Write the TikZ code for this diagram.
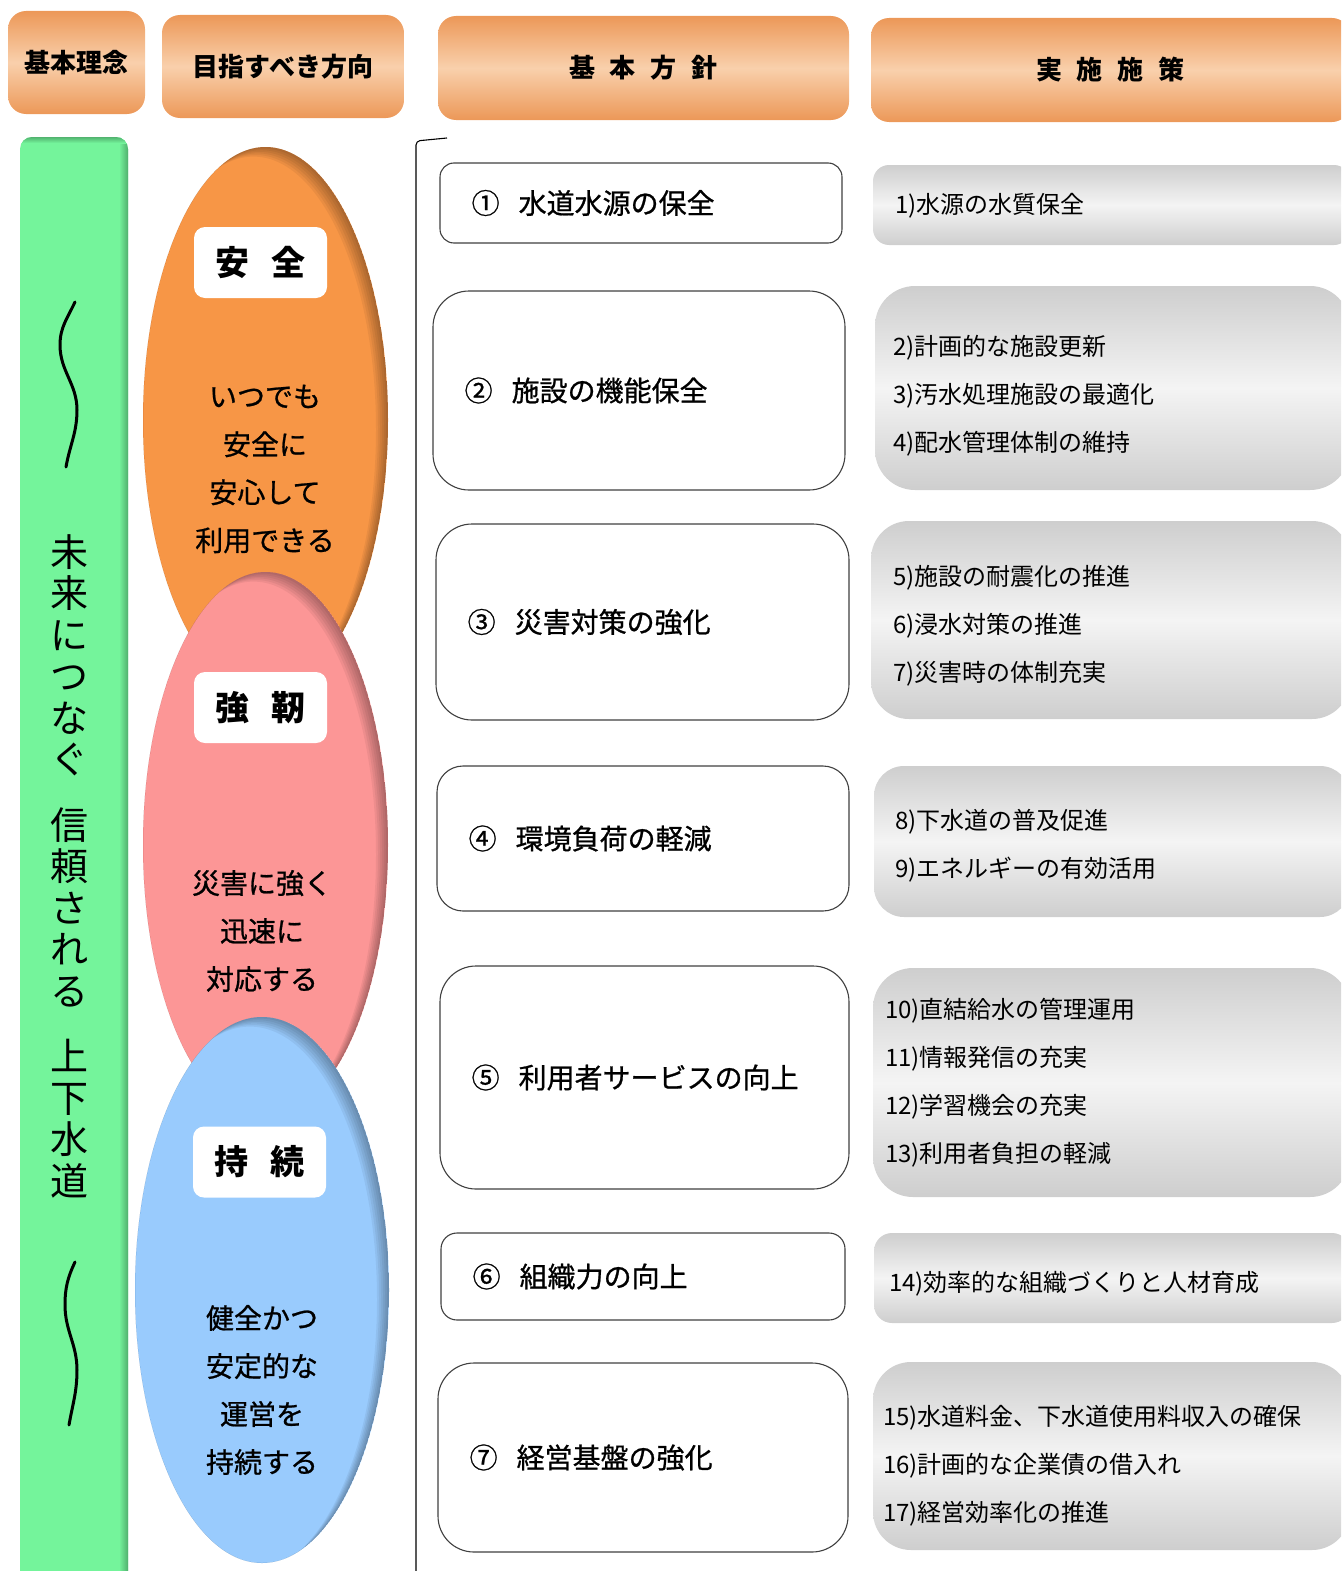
\documentclass[tikz,border=0pt]{standalone}
\usepackage{fontspec}
\setmainfont{Noto Sans CJK JP}
\newfontfamily\jpmid[FakeBold=0.8]{Noto Sans CJK JP}
\usetikzlibrary{positioning}

\definecolor{headDeep}{RGB}{236,152,88}
\definecolor{headPale}{RGB}{249,208,172}
\definecolor{barGreen}{RGB}{116,244,155}
\definecolor{barShade}{RGB}{76,168,104}
\definecolor{safeOrange}{RGB}{247,150,70}
\definecolor{toughPink}{RGB}{252,150,150}
\definecolor{keepBlue}{RGB}{153,203,253}
\definecolor{actGray}{RGB}{206,206,206}
\definecolor{actPale}{RGB}{244,244,244}

\pgfkeys{/tikz/.cd,
    chart style/.style={
        x=1pt, y=-1pt,      % 画像のピクセル座標そのまま
        line join=round
    },
    head box/.style={rounded corners=18pt, top color=headDeep, bottom color=headDeep,
        middle color=headPale, inner sep=0pt, font=\fontsize{26}{30}\selectfont\bfseries},
    title box/.style={fill=white, rounded corners=11pt, minimum width=133pt,
        minimum height=71pt, font=\fontsize{34}{40}\selectfont\bfseries},
    aim text/.style={align=center, inner sep=0pt, font=\jpmid\fontsize{28}{48}\selectfont},
    motto text/.style={align=center, inner sep=0pt, font=\fontsize{38}{41.5}\selectfont},
    policy box/.style={draw=black!75, line width=1.1pt, fill=white},
    policy text/.style={anchor=west, inner sep=0pt, font=\jpmid\fontsize{28}{34}\selectfont},
    action box/.style={top color=actGray, bottom color=actGray, middle color=actPale},
    action text/.style={anchor=west, align=left, inner sep=0pt, font=\fontsize{24}{48}\selectfont},
    wave/.style={line width=3pt, line cap=round}
}

\begin{document}
\begin{tikzpicture}[chart style]

    \useasboundingbox (0,0) rectangle (1341,1571);
    \clip (0,0) rectangle (1341,1571);

    % --- 1. 見出し ---
    \node[head box, minimum width=137pt, minimum height=103pt] (headIdea) at (76.5,62.5) {基本理念};
    \node[head box, minimum width=242pt, minimum height=103pt] (headAim) at (283,66.5) {目指すべき方向};
    \node[head box, minimum width=411pt, minimum height=104pt] (headPolicy) at (643.5,68)
        {基\hspace{15pt}本\hspace{15pt}方\hspace{15pt}針};
    \node[head box, minimum width=479pt, minimum height=104pt] (headAction) at (1110.5,70)
        {実\hspace{15pt}施\hspace{15pt}施\hspace{15pt}策\hspace{20pt}};

    % --- 2. 基本理念の帯 ---
    \fill[barGreen, rounded corners=12pt] (20,137) rectangle (128,1600);
    \begin{scope}
        \clip[rounded corners=12pt] (20,137) rectangle (128,1600);
        \shade[left color=barGreen, right color=barShade] (119,130) rectangle (129,1600);
        \shade[top color=barShade, bottom color=barGreen] (15,136) rectangle (130,143);
    \end{scope}

    \node[motto text] (motto) at (69,866)
        {未\\来\\に\\つ\\な\\ぐ\\[24pt]信\\頼\\さ\\れ\\る\\[24pt]上\\下\\水\\道};

    \coordinate (waveA) at (75,302);
    \coordinate (waveB) at (66,467);
    \coordinate (waveC) at (75,1262);
    \coordinate (waveD) at (69,1425);
    \draw[wave] (waveA) to[out=-115,in=90] (60,345) to[out=-90,in=90] (77,410) to[out=-90,in=80] (waveB);
    \draw[wave] (waveC) to[out=-115,in=90] (65,1305) to[out=-90,in=90] (77,1370) to[out=-90,in=80] (waveD);

    % --- 3. 目指すべき方向（楕円） ---
    \foreach \cx/\cy/\rx/\col in {265.5/420/122.5/safeOrange, 265.5/845/122.5/toughPink, 262/1290/127/keepBlue} {
        \fill[\col] (\cx,\cy) ellipse [x radius=\rx, y radius=273];
        \begin{scope}
            \clip (\cx,\cy) ellipse [x radius=\rx, y radius=273];
            \foreach \s in {2,4,6,8,10,12}
                \fill[black, opacity=.055, even odd rule] (\cx,\cy) ellipse [x radius=\rx, y radius=273]
                    ([shift={(-\s,\s*0.8)}]\cx,\cy) ellipse [x radius=\rx, y radius=273];
        \end{scope}
    }

    \node[title box] (safeTitle) at (260.5,262.5) {安\hspace{22pt}全};
    \node[aim text] (safeText) at (265,469) {いつでも\\安全に\\安心して\\利用できる};

    \node[title box] (toughTitle) at (260.5,707.5) {強\hspace{22pt}靭};
    \node[aim text] (toughText) at (262,931) {災害に強く\\迅速に\\対応する};

    \node[title box] (keepTitle) at (259.5,1162) {持\hspace{22pt}続};
    \node[aim text] (keepText) at (262,1390) {健全かつ\\安定的な\\運営を\\持続する};

    % --- 4. 基本方針 ---
    \coordinate (divTop) at (447,138);
    \coordinate (divBot) at (416,1580);
    \draw[line width=1.1pt, rounded corners=4pt] (divTop) -- (416,141) -- (divBot);

    \foreach \n/\cx/\cy/\w/\h/\r/\txt in {
        1/641/203/402/80/14/{①\hspace{19pt}水道水源の保全},
        2/639/390.5/412/199/36/{②\hspace{19pt}施設の機能保全},
        3/642.5/622/413/196/36/{③\hspace{19pt}災害対策の強化},
        4/643/838.5/412/145/26/{④\hspace{19pt}環境負荷の軽減},
        5/644.5/1077.5/409/223/36/{⑤\hspace{19pt}利用者サービスの向上},
        6/643/1276.5/404/87/16/{⑥\hspace{19pt}組織力の向上},
        7/643/1457.5/410/189/36/{⑦\hspace{19pt}経営基盤の強化}} {
        \node[policy box, minimum width=\w pt, minimum height=\h pt, rounded corners=\r pt] (pol\n) at (\cx,\cy) {};
        \node[policy text] (pol\n text) at ([xshift=32pt]pol\n.west) {\txt};
    }

    % --- 5. 実施施策 ---
    \foreach \n/\cx/\cy/\w/\h/\r/\dx/\dy/\txt in {
        1/1111.5/205/477/80/16/22/-1/{1)水源の水質保全},
        2/1112.5/388/475/204/40/18/-8/{2)計画的な施設更新\\3)汚水処理施設の最適化\\4)配水管理体制の維持},
        3/1110.5/620/479/198/38/22/-6/{5)施設の耐震化の推進\\6)浸水対策の推進\\7)災害時の体制充実},
        4/1112/841.5/476/151/30/21/-4/{8)下水道の普及促進\\9)エネルギーの有効活用},
        5/1111.5/1082.5/477/229/40/12/0/{10)直結給水の管理運用\\11)情報発信の充実\\12)学習機会の充実\\13)利用者負担の軽減},
        6/1112/1278/476/90/18/15/-6/{14)効率的な組織づくりと人材育成},
        7/1111.5/1456/477/188/38/10/-10/{15)水道料金、下水道使用料収入の確保\\16)計画的な企業債の借入れ\\17)経営効率化の推進}} {
        \node[action box, minimum width=\w pt, minimum height=\h pt, rounded corners=\r pt] (act\n) at (\cx,\cy) {};
        \node[action text] (act\n text) at ([xshift=\dx pt, yshift=\dy pt]act\n.west) {\txt};
    }

\end{tikzpicture}
\end{document}
